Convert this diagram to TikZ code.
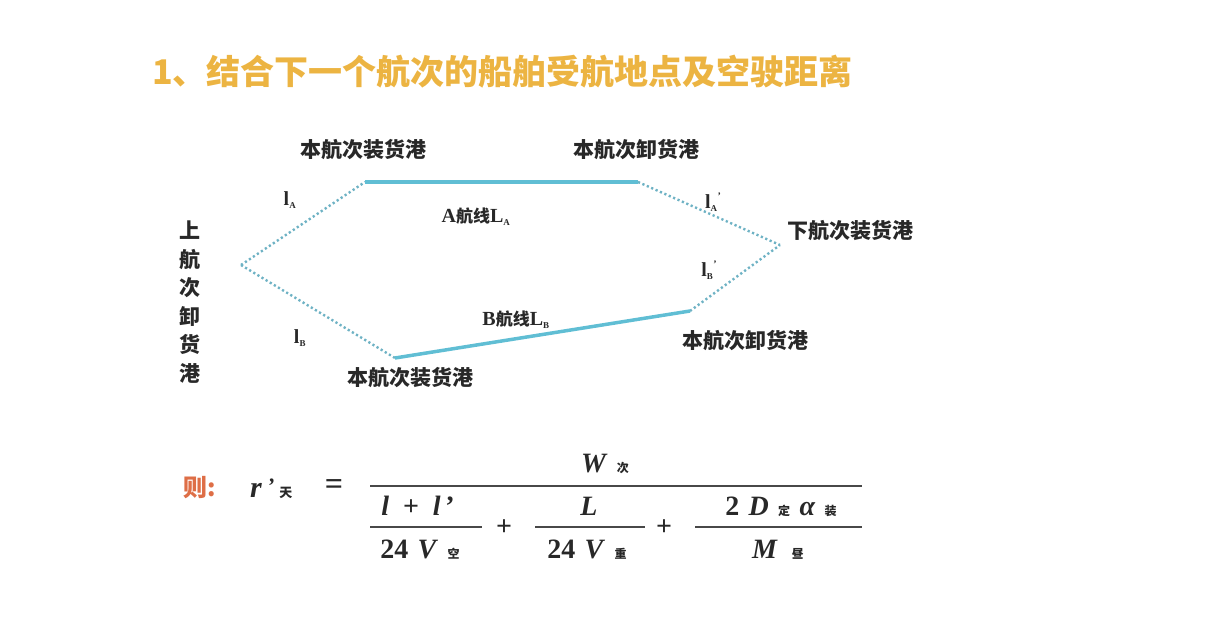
\documentclass[tikz,border=0pt]{standalone}
\usepackage{fontspec}
\setmainfont{Liberation Serif}
\newfontfamily\cjk{Noto Sans CJK SC}
\definecolor{titlec}{RGB}{236,180,66}
\definecolor{solidc}{RGB}{96,190,212}
\definecolor{dotc}{RGB}{110,178,196}
\definecolor{txtc}{RGB}{40,40,40}
\definecolor{redc}{RGB}{222,110,70}
\newcommand{\sz}[1]{\fontsize{#1}{#1}\selectfont}
\newcommand{\cb}[1]{{\cjk\bfseries #1}}
\begin{document}
\begin{tikzpicture}[x=1pt,y=-1pt,
  lbl/.style={text=txtc,font=\sz{21}\cjk\bfseries,inner sep=0pt},
  ml/.style={text=txtc,font=\sz{20}\bfseries,inner sep=0pt},
  fm/.style={text=txtc,font=\sz{28}\bfseries,inner sep=0pt},
  solidline/.style={draw=solidc,line width=3.5pt},
  dotline/.style={draw=dotc,line width=2.4pt,dash pattern=on 2.2pt off 2.6pt},
  bar/.style={draw=txtc!85,line width=1.3pt}]
\useasboundingbox (0,0) rectangle (1214,636);
% title
\node[text=titlec,font=\sz{34}\cjk\bfseries,anchor=west,inner sep=0pt] (title) at (152,72) {1、结合下一个航次的船舶受航地点及空驶距离};
% vertices
\coordinate (L) at (241,265);
\coordinate (TL) at (365,182);
\coordinate (TR) at (638,182);
\coordinate (R) at (780,245);
\coordinate (BR) at (690,311);
\coordinate (BL) at (395,358);
\draw[dotline] (L) -- (TL);
\draw[dotline] (L) -- (BL);
\draw[dotline] (TR) -- (R);
\draw[dotline] (BR) -- (R);
\draw[solidline] (TL) -- (TR);
\draw[solidline] (BL) -- (BR);
% labels
\node[lbl] (ntl) at (363,150) {本航次装货港};
\node[lbl] (ntr) at (636,150) {本航次卸货港};
\node[lbl] (nr) at (850,231) {下航次装货港};
\node[lbl] (nbr) at (745,341) {本航次卸货港};
\node[lbl] (nbl) at (410,378) {本航次装货港};
\node[lbl,align=center] (nl) at (190,302) {上\\[7.5pt]航\\[7.5pt]次\\[7.5pt]卸\\[7.5pt]货\\[7.5pt]港};
\node[ml] (la) at (290,200) {l\textsubscript{\sz{9}A}};
\node[ml] (lb) at (300,338) {l\textsubscript{\sz{9}B}};
\node[ml] (lap) at (713,202) {l\textsubscript{\sz{9}A}\raisebox{1ex}{\sz{10}'}};
\node[ml] (lbp) at (709,270) {l\textsubscript{\sz{9}B}\raisebox{1ex}{\sz{10}'}};
\node[ml] (rla) at (476,217) {A\cb{\sz{17}航线}L\textsubscript{\sz{9}A}};
\node[ml] (rlb) at (516,320) {B\cb{\sz{17}航线}L\textsubscript{\sz{9}B}};
% formula
\node[text=redc,font=\sz{24}\cjk\bfseries,inner sep=0pt] (ze) at (200,488) {则:};
\node[fm,anchor=base west] (r) at (250,497) {\sz{30}\textit{r}\,\raisebox{0.25ex}{\sz{22}\textit{'}}\,\cb{\sz{13}天}};
\node[fm,font=\sz{32}\bfseries] (eq) at (334,487) {=};
\draw[bar] (370,486) -- (862,486);
\node[fm,anchor=base] (w) at (605,472) {\textit{W}\,\,\cb{\sz{12}次}};
% first fraction
\node[fm,anchor=base] (n1) at (418,515) {\textit{l}\,\,\,+\,\,\,\textit{l}\,'};
\draw[bar] (370,527) -- (482,527);
\node[fm,anchor=base] (d1) at (420,558) {24\,\,\textit{V}\,\,\cb{\sz{12}空}};
\node[fm] (p1) at (504,528) {+};
% second fraction
\node[fm,anchor=base] (n2) at (589,515) {\textit{L}};
\draw[bar] (535,527) -- (645,527);
\node[fm,anchor=base] (d2) at (587,558) {24\,\,\textit{V}\,\,\cb{\sz{12}重}};
\node[fm] (p2) at (664,528) {+};
% third fraction
\node[fm,anchor=base] (n3) at (781,515) {2\,\,\textit{D}\,\,\cb{\sz{12}定}\,\,\textit{α}\,\,\cb{\sz{12}装}};
\draw[bar] (695,527) -- (862,527);
\node[fm,anchor=base] (d3) at (778,558) {\textit{M}\,\,\,\cb{\sz{12}昼}};
\end{tikzpicture}
\end{document}
